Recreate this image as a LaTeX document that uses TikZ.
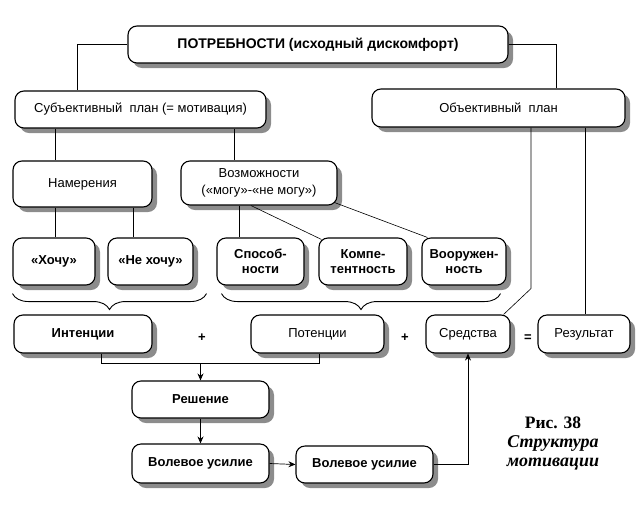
\documentclass[tikz,border=0pt]{standalone}
\usepackage{fontspec}
\setmainfont{Liberation Sans}
\newfontfamily\capfont{Liberation Serif}
\usetikzlibrary{shadows}
\usetikzlibrary{arrows.meta}
\usetikzlibrary{decorations.pathreplacing}

\begin{document}
\begin{tikzpicture}[x=1pt,y=-1pt,
  box/.style={draw, line width=1.1pt, rounded corners=9pt, fill=white, align=center, inner sep=0pt,
    font=\fontsize{13}{15}\selectfont,
    drop shadow={shadow xshift=5pt, shadow yshift=-5pt, fill=black!45, opacity=1}},
  lnk/.style={line width=0.6pt},
  arr/.style={-{Stealth[length=7pt,width=6pt]}, line width=0.7pt},
  brc/.style={decorate, decoration={brace, mirror, amplitude=16pt}, line width=0.9pt},
  sign/.style={font=\fontsize{13}{15}\selectfont\bfseries}]
\useasboundingbox (0,0) rectangle (642,504);

% top levels
\node[box, minimum width=380pt, minimum height=37pt, font=\fontsize{14}{16}\selectfont] (need) at (318,44.5) {\textbf{ПОТРЕБНОСТИ (исходный дискомфорт)}};
\node[box, minimum width=251pt, minimum height=37pt] (subj) at (140.5,109.5) {Субъективный\ \ план (= мотивация)};
\node[box, minimum width=253pt, minimum height=38pt] (obj) at (498.5,108) {Объективный\ \ план};

\node[box, minimum width=139pt, minimum height=46pt] (intent) at (82.5,184) {Намерения};
\node[box, minimum width=156pt, minimum height=44pt] (poss) at (259,183) {Возможности\\[2pt](«могу»-«не могу»)};

% third row
\node[box, minimum width=82pt, minimum height=47pt] (want) at (54,261.5) {\textbf{«Хочу»}};
\node[box, minimum width=85pt, minimum height=47pt] (notwant) at (150.5,261.5) {\textbf{«Не хочу»}};
\node[box, minimum width=87pt, minimum height=47pt] (abil) at (260.5,261.5) {\textbf{Способ-}\\\textbf{ности}};
\node[box, minimum width=88pt, minimum height=47pt] (comp) at (363,261.5) {\textbf{Компе-}\\\textbf{тентность}};
\node[box, minimum width=84pt, minimum height=47pt] (equip) at (464,261.5) {\textbf{Вооружен-}\\\textbf{ность}};

% sum row
\node[box, minimum width=138pt, minimum height=38pt] (intentions) at (83,334) {\textbf{Интенции}};
\node[box, minimum width=133pt, minimum height=38pt] (potent) at (317.5,334) {Потенции};
\node[box, minimum width=84pt, minimum height=38pt] (means) at (468,334) {Средства};
\node[box, minimum width=92pt, minimum height=38pt] (result) at (584,334) {Результат};
\node[sign] (plus1) at (202,338) {+};
\node[sign] (plus2) at (405,338) {+};
\node[sign] (eq) at (528,338) {=};

% decision
\node[box, minimum width=137pt, minimum height=37pt] (decision) at (200.5,399.5) {\textbf{Решение}};
\node[box, minimum width=137pt, minimum height=39pt] (will1) at (200.5,463.5) {\textbf{Волевое усилие}};
\node[box, minimum width=137pt, minimum height=37pt] (will2) at (364.5,464.5) {\textbf{Волевое усилие}};

\node[font=\capfont\fontsize{17.5}{18}\selectfont\bfseries] (fig) at (553,423) {Рис. 38};
\node[font=\capfont\fontsize{18}{19}\selectfont\bfseries\itshape, align=center] (figname) at (553,453) {Структура\\мотивации};

% connectors
\draw[lnk] (need.west) -| ([xshift=-63.5pt]subj.north);
\draw[lnk] (need.east) -| ([xshift=57.5pt]obj.north);
\draw[lnk] ([xshift=-85.5pt]subj.south) -- ([xshift=-27.5pt]intent.north);
\draw[lnk] ([xshift=93.5pt]subj.south) -- ([xshift=-25pt]poss.north);
\draw[lnk] ([xshift=-27.5pt]intent.south) -- ([xshift=1pt]want.north);
\draw[lnk] ([xshift=50.5pt]intent.south) -- ([xshift=-17.5pt]notwant.north);
\draw[lnk] ([xshift=-20pt]poss.south) -- ([xshift=-21.5pt]abil.north);
\draw[lnk] ([xshift=-8pt]poss.south) -- ([xshift=3pt,yshift=-2pt]comp.north west);
\draw[lnk] ([xshift=-3pt,yshift=3pt]poss.south east) -- ([xshift=6pt]equip.north west);
\draw[lnk] (obj.south) ++(32.5,0) -- ++(0,161) -- ([xshift=-7pt]means.north east);
\draw[lnk] (obj.south) ++(86.5,0) coordinate (ob) -- (ob |- result.north);

\draw[brc] ([yshift=-8pt]want.south west) -- ([xshift=13pt,yshift=-8pt]notwant.south east);
\draw[brc] ([xshift=5pt,yshift=-8pt]abil.south west) -- ([xshift=-6pt,yshift=-8pt]equip.south east);

\path (intentions.south) ++(18,0) coordinate (ia);
\path (potent.south) ++(1.5,0) coordinate (pa);
\draw[lnk] (ia) -- ++(0,10) coordinate (ib) -| (pa);
\draw[arr] (ib -| decision.north) -- (decision.north);
\draw[arr] (decision.south) -- (will1.north);
\draw[arr] (will1.east) -- (will2.west);
\draw[arr] (will2.east) -| (means.south);
\end{tikzpicture}
\end{document}
